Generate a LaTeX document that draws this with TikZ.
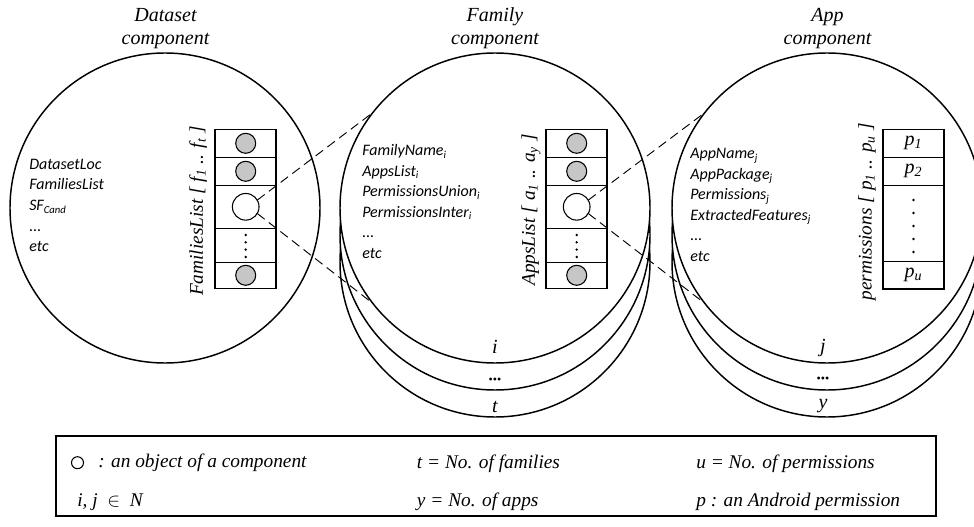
\documentclass[tikz,border=0pt]{standalone}
\usepackage{fontspec}
\setmainfont{Liberation Serif}
\newfontfamily\calfont{Carlito}
\newcommand\objbox[2]{%
  \draw[cell] (#1,129.3) rectangle (#1+61,288.3);
  \foreach \yy in {157.3,185.3,228.3,262.3} \draw[cell] (#1,\yy) -- (#1+61,\yy);
  \foreach \yy in {143.3,171.3,275.3} \draw[gdot] (#1+30.7,\yy) circle (7.5pt);
  \node[wobj] (#2) at (#1+30.7,206.8) {};
  \foreach \yy in {235,242.3,249.6,257} \fill (#1+30.7,\yy) circle (1pt);
}
\begin{document}
\begin{tikzpicture}[x=0.75pt,y=-0.75pt,
  bigc/.style={draw, line width=1.1pt, circle, fill=white, minimum size=232.5pt, inner sep=0pt, outer sep=0pt},
  title/.style={font=\fontsize{15}{18}\selectfont\itshape, inner sep=0pt, anchor=base},
  item/.style={font=\calfont\fontsize{12}{14}\selectfont\itshape, inner sep=0pt, anchor=base west},
  cell/.style={draw, line width=0.8pt},
  gdot/.style={draw, line width=0.8pt, fill=gray!45},
  wobj/.style={draw, line width=0.8pt, circle, fill=white, minimum size=20pt, inner sep=0pt, outer sep=0pt},
  conn/.style={dash pattern=on 7pt off 4pt, line width=0.7pt},
  vlabel/.style={font=\fontsize{14.5}{17}\selectfont\itshape, rotate=90, inner sep=0pt},
  legend/.style={font=\fontsize{14.5}{17}\selectfont\itshape, inner sep=0pt, anchor=base west},
  bul/.style={font=\fontsize{9}{10}\selectfont, inner sep=0pt},
]
\useasboundingbox (0,0) rectangle (974,527);
\clip (0,0) rectangle (974,527);

% big circles
\node[bigc] (ds) at (165,208) {};
\node[bigc] (fam3) at (495,262) {};
\node[bigc] (fam2) at (495,235) {};
\node[bigc] (fam) at (495,208) {};
\node[bigc] (app3) at (827,262) {};
\node[bigc] (app2) at (827,235) {};
\node[bigc] (app) at (827,208) {};

% titles
\node[title] (dst1) at (165.5,21.7) {Dataset};
\node[title] (dst2) at (165.5,45) {component};
\node[title] (famt1) at (495,21.7) {Family};
\node[title] (famt2) at (495,45) {component};
\node[title] (appt1) at (827.5,21.7) {App};
\node[title] (appt2) at (827.5,45) {component};

% attribute lists
\node[item] (d1) at (29,169.3) {DatasetLoc};
\node[item] (d2) at (29,190) {FamiliesList};
\node[item] (d3) at (29,211) {SF\textsubscript{Cand}};
\node[item] (d4) at (29,231.5) {...};
\node[item] (d5) at (29,251.5) {etc};

\node[item] (f1) at (362,156) {FamilyName\textsubscript{i}};
\node[item] (f2) at (362,176.5) {AppsList\textsubscript{i}};
\node[item] (f3) at (362,197) {PermissionsUnion\textsubscript{i}};
\node[item] (f4) at (362,217.5) {PermissionsInter\textsubscript{i}};
\node[item] (f5) at (362,238) {...};
\node[item] (f6) at (362,258.5) {etc};

\node[item] (a1) at (690,159) {AppName\textsubscript{j}};
\node[item] (a2) at (690,179.5) {AppPackage\textsubscript{j}};
\node[item] (a3) at (690,200) {Permissions\textsubscript{j}};
\node[item] (a4) at (690,220.5) {ExtractedFeatures\textsubscript{j}};
\node[item] (a5) at (690,241) {...};
\node[item] (a6) at (690,261.5) {etc};

% list boxes
\objbox{215}{dsobj}
\objbox{546}{famobj}

\draw[cell] (883,129.3) rectangle (944,289);
\foreach \yy in {157.3,185.3,261.7} \draw[cell] (883,\yy) -- (944,\yy);
\node[title, anchor=center] (p1) at (913.5,143.3) {p\textsubscript{1}};
\node[title, anchor=center] (p2) at (913.5,171.3) {p\textsubscript{2}};
\node[title, anchor=center] (pu) at (913.5,275.3) {p\textsubscript{u}};
\foreach \yy in {200,213,226,239,252} \fill (913.5,\yy) circle (1pt);

% rotated list labels
\node[vlabel] (dslist) at (198,211) {FamiliesList [ f\textsubscript{1} .. f\textsubscript{t} ]};
\node[vlabel] (famlist) at (531,210) {AppsList [ a\textsubscript{1} .. a\textsubscript{y} ]};
\node[vlabel] (applist) at (867,212) {permissions [ p\textsubscript{1} .. p\textsubscript{u} ]};

% stack labels
\node[title] (li) at (495,353) {i};
\node[bul] (ldots) at (495,381) {•••};
\node[title] (lt) at (495,412) {t};
\node[title] (lj) at (823,352) {j};
\node[bul] (ldots2) at (823,380) {•••};
\node[title] (ly) at (823,408) {y};

% connectors
\draw[conn] (dsobj.30) -- (fam.142);
\draw[conn] (dsobj.-30) -- (fam.218);
\draw[conn] (famobj.30) -- (app.142);
\draw[conn] (famobj.-30) -- (app.218);

% legend
\draw[line width=1pt] (56,436) rectangle (936,516);
\node[draw, circle, minimum size=9pt, inner sep=0pt, line width=0.8pt] (lgc) at (77.5,462.7) {};
\node[legend] (lg1) at (98,467) {: an object of a component};
\node[legend] (lg2) at (77,506) {i, j \ $\in$ \ N};
\node[legend] (lg3) at (416.7,468) {t = No. of families};
\node[legend] (lg4) at (416.7,506) {y = No. of apps};
\node[legend] (lg5) at (696,468) {u = No. of permissions};
\node[legend] (lg6) at (696,506) {p : an Android permission};
\end{tikzpicture}
\end{document}
